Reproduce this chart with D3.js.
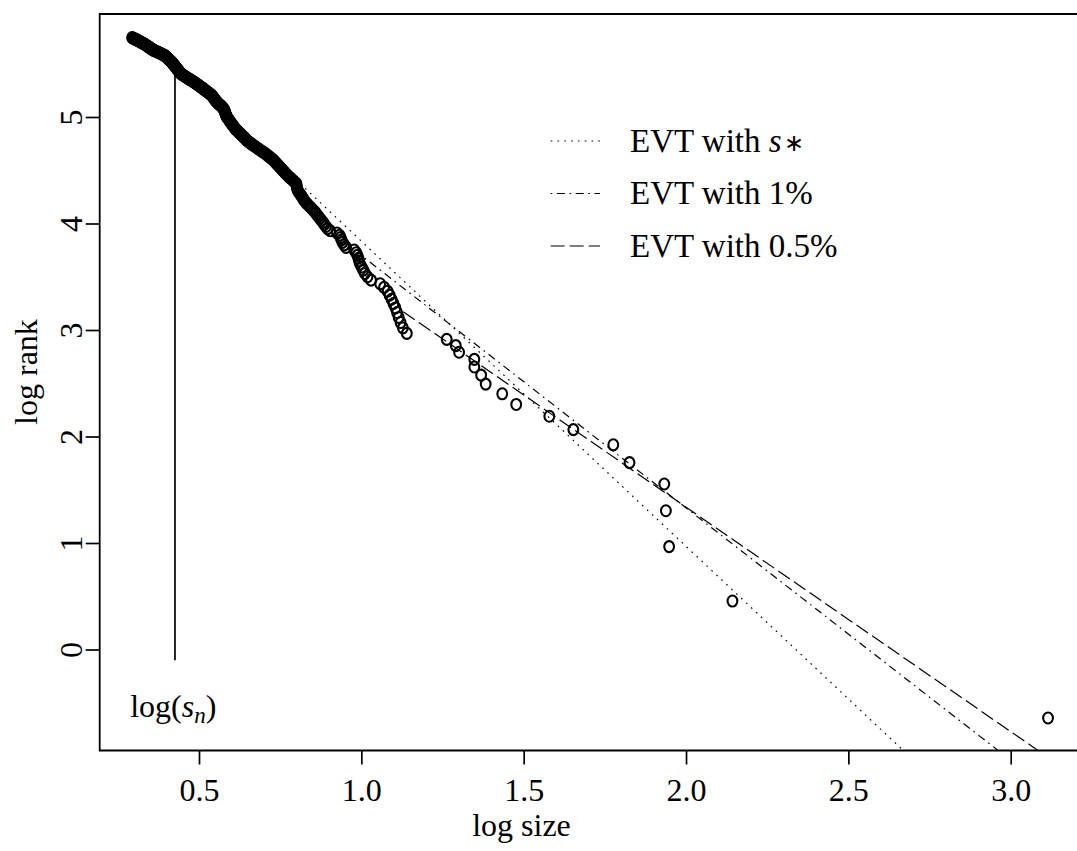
<!DOCTYPE html>
<html>
<head>
<meta charset="utf-8">
<script src="https://cdn.jsdelivr.net/npm/d3@7"></script>
<style>
  html, body { margin: 0; padding: 0; background: #fff; }
  svg { display: block; }
  text { font-family: "Liberation Serif", "Times New Roman", serif; fill: #000; }
</style>
</head>
<body>
<svg id="chart" width="1077" height="851"></svg>
<script>
// ---- data ----
const logSize = [
  3.115, 2.143, 1.948, 1.938, 1.933, 1.826, 1.776, 1.653, 1.579, 1.477,
  1.434, 1.383, 1.369, 1.348, 1.348, 1.301, 1.291, 1.263, 1.140, 1.128,
  1.121, 1.115, 1.110, 1.105, 1.099, 1.093, 1.087, 1.081, 1.070, 1.058,
  1.030, 1.019, 1.011, 1.006, 1.001, 0.996, 0.993, 0.991, 0.988, 0.984,
  0.978, 0.953, 0.947, 0.942, 0.939, 0.936, 0.933, 0.925, 0.904, 0.896,
  0.891, 0.886, 0.882, 0.877, 0.872, 0.868, 0.863, 0.859, 0.854, 0.848,
  0.843, 0.838, 0.833, 0.828, 0.824, 0.821, 0.818, 0.815, 0.811, 0.808,
  0.805, 0.803, 0.802, 0.801, 0.800, 0.800, 0.796, 0.791, 0.786, 0.782,
  0.777, 0.773, 0.769, 0.765, 0.762, 0.758, 0.755, 0.751, 0.748, 0.745,
  0.741, 0.738, 0.735, 0.731, 0.728, 0.724, 0.719, 0.715, 0.711, 0.707,
  0.703, 0.698, 0.693, 0.688, 0.684, 0.679, 0.675, 0.671, 0.666, 0.662,
  0.658, 0.654, 0.650, 0.647, 0.644, 0.642, 0.639, 0.636, 0.633, 0.631,
  0.628, 0.625, 0.622, 0.620, 0.617, 0.614, 0.612, 0.610, 0.608, 0.606,
  0.604, 0.602, 0.600, 0.599, 0.597, 0.595, 0.594, 0.592, 0.590, 0.589,
  0.587, 0.585, 0.584, 0.584, 0.583, 0.582, 0.581, 0.580, 0.580, 0.579,
  0.578, 0.577, 0.576, 0.574, 0.572, 0.570, 0.568, 0.566, 0.563, 0.561,
  0.559, 0.557, 0.555, 0.553, 0.551, 0.550, 0.549, 0.547, 0.546, 0.544,
  0.543, 0.542, 0.540, 0.538, 0.536, 0.533, 0.531, 0.529, 0.526, 0.524,
  0.521, 0.519, 0.517, 0.514, 0.512, 0.510, 0.507, 0.505, 0.502, 0.500,
  0.498, 0.495, 0.493, 0.491, 0.488, 0.485, 0.483, 0.480, 0.478, 0.475,
  0.472, 0.470, 0.467, 0.465, 0.462, 0.460, 0.457, 0.455, 0.452, 0.450,
  0.448, 0.445, 0.444, 0.442, 0.441, 0.440, 0.439, 0.438, 0.436, 0.435,
  0.434, 0.433, 0.432, 0.431, 0.429, 0.428, 0.427, 0.426, 0.425, 0.424,
  0.423, 0.421, 0.420, 0.419, 0.418, 0.417, 0.416, 0.414, 0.413, 0.411,
  0.410, 0.409, 0.407, 0.406, 0.404, 0.403, 0.402, 0.400, 0.399, 0.398,
  0.396, 0.395, 0.392, 0.389, 0.387, 0.384, 0.381, 0.378, 0.376, 0.373,
  0.370, 0.368, 0.365, 0.362, 0.360, 0.358, 0.356, 0.354, 0.352, 0.350,
  0.349, 0.347, 0.345, 0.344, 0.342, 0.340, 0.338, 0.336, 0.335, 0.333,
  0.330, 0.329, 0.326, 0.324, 0.322, 0.320, 0.318, 0.316, 0.314, 0.312,
  0.310, 0.308, 0.306, 0.303, 0.301, 0.298, 0.296, 0.294
];
const logRank = [
  -0.643, 0.455, 0.966, 1.303, 1.554, 1.755, 1.922, 2.065, 2.190, 2.301,
  2.401, 2.492, 2.576, 2.653, 2.724, 2.791, 2.853, 2.912, 2.968, 3.020,
  3.070, 3.118, 3.164, 3.207, 3.249, 3.289, 3.327, 3.364, 3.400, 3.434,
  3.468, 3.500, 3.531, 3.562, 3.591, 3.620, 3.647, 3.674, 3.701, 3.726,
  3.751, 3.776, 3.800, 3.823, 3.846, 3.868, 3.890, 3.911, 3.932, 3.952,
  3.972, 3.992, 4.011, 4.030, 4.048, 4.066, 4.084, 4.102, 4.119, 4.136,
  4.153, 4.169, 4.185, 4.201, 4.217, 4.232, 4.247, 4.262, 4.277, 4.291,
  4.306, 4.320, 4.334, 4.347, 4.361, 4.374, 4.387, 4.400, 4.413, 4.426,
  4.438, 4.451, 4.463, 4.475, 4.487, 4.499, 4.510, 4.522, 4.533, 4.544,
  4.555, 4.566, 4.577, 4.588, 4.599, 4.609, 4.620, 4.630, 4.640, 4.650,
  4.660, 4.670, 4.680, 4.690, 4.699, 4.709, 4.718, 4.727, 4.737, 4.746,
  4.755, 4.764, 4.773, 4.782, 4.791, 4.799, 4.808, 4.816, 4.825, 4.833,
  4.842, 4.850, 4.858, 4.866, 4.874, 4.882, 4.890, 4.898, 4.906, 4.914,
  4.921, 4.929, 4.937, 4.944, 4.952, 4.959, 4.966, 4.974, 4.981, 4.988,
  4.995, 5.002, 5.009, 5.016, 5.023, 5.030, 5.037, 5.044, 5.051, 5.057,
  5.064, 5.071, 5.077, 5.084, 5.090, 5.097, 5.103, 5.109, 5.116, 5.122,
  5.128, 5.135, 5.141, 5.147, 5.153, 5.159, 5.165, 5.171, 5.177, 5.183,
  5.189, 5.195, 5.200, 5.206, 5.212, 5.218, 5.223, 5.229, 5.235, 5.240,
  5.246, 5.251, 5.257, 5.262, 5.268, 5.273, 5.278, 5.284, 5.289, 5.294,
  5.300, 5.305, 5.310, 5.315, 5.320, 5.326, 5.331, 5.336, 5.341, 5.346,
  5.351, 5.356, 5.361, 5.366, 5.371, 5.375, 5.380, 5.385, 5.390, 5.395,
  5.399, 5.404, 5.409, 5.414, 5.418, 5.423, 5.428, 5.432, 5.437, 5.441,
  5.446, 5.450, 5.455, 5.459, 5.464, 5.468, 5.473, 5.477, 5.482, 5.486,
  5.490, 5.495, 5.499, 5.503, 5.507, 5.512, 5.516, 5.520, 5.524, 5.529,
  5.533, 5.537, 5.541, 5.545, 5.549, 5.553, 5.557, 5.561, 5.565, 5.569,
  5.573, 5.577, 5.581, 5.585, 5.589, 5.593, 5.597, 5.601, 5.605, 5.609,
  5.613, 5.616, 5.620, 5.624, 5.628, 5.632, 5.635, 5.639, 5.643, 5.647,
  5.650, 5.654, 5.658, 5.661, 5.665, 5.669, 5.672, 5.676, 5.679, 5.683,
  5.687, 5.690, 5.694, 5.697, 5.701, 5.704, 5.708, 5.711, 5.715, 5.718,
  5.722, 5.725, 5.728, 5.732, 5.735, 5.739, 5.742, 5.745
];

// fitted EVT lines: endpoints [logSize, logRank]
const fitNames = ["EVT with s*", "EVT with 1%", "EVT with 0.5%"];
const fitStart = [[0.827, 4.330], [1.011, 3.674], [1.129, 3.172]];
const fitEnd   = [[2.670, -0.951], [2.965, -0.957], [3.085, -0.950]];

// threshold log(s_n)
const threshX = 0.426;
const threshY = [-0.1, 5.42];

const xTicks = [0.5, 1.0, 1.5, 2.0, 2.5, 3.0];
const yTicks = [0, 1, 2, 3, 4, 5];

// ---- layout ----
const svg = d3.select("#chart");
const W = 1077, H = 851;
const plot = { left: 99.7, top: 14, bottom: 750.5, right: 1095 };
const FS = 32;

svg.append("rect").attr("width", W).attr("height", H).attr("fill", "#fff");

const x = d3.scaleLinear().domain([0.5, 3.0]).range([199, 1010.7]);
const y = d3.scaleLinear().domain([0, 5]).range([649.5, 117]);

svg.append("defs").append("clipPath").attr("id", "clip")
  .append("rect")
  .attr("x", plot.left).attr("y", plot.top)
  .attr("width", plot.right - plot.left).attr("height", plot.bottom - plot.top);

const g = svg.append("g").attr("clip-path", "url(#clip)");

// threshold line
g.append("line")
  .attr("x1", x(threshX)).attr("x2", x(threshX))
  .attr("y1", y(threshY[0])).attr("y2", y(threshY[1]))
  .attr("stroke", "#000").attr("stroke-width", 1.7);

// fitted lines
const dashes = ["1.6,5.2", "1.6,4.6,8,4.6", "14,5"];
const lineGen = d3.line().x(d => x(d[0])).y(d => y(d[1]));
fitNames.forEach((n, i) => {
  g.append("path")
    .attr("d", lineGen([fitStart[i], fitEnd[i]]))
    .attr("fill", "none").attr("stroke", "#000")
    .attr("stroke-width", 1.2)
    .attr("stroke-dasharray", dashes[i]);
});

// points
const pts = logSize.map((s, i) => ({ s: s, r: logRank[i] }));
g.selectAll("ellipse.pt").data(pts).enter().append("ellipse")
  .attr("class", "pt")
  .attr("cx", d => x(d.s)).attr("cy", d => y(d.r))
  .attr("rx", 4.9).attr("ry", 5.5)
  .attr("fill", "none").attr("stroke", "#000").attr("stroke-width", 2.1);

// frame (right side lies beyond the picture)
svg.append("path")
  .attr("d", `M${plot.right},${plot.top}H${plot.left}V${plot.bottom}H${plot.right}`)
  .attr("fill", "none").attr("stroke", "#000").attr("stroke-width", 1.8);

// x axis
const xAxis = svg.append("g").attr("transform", `translate(0,${plot.bottom})`)
  .call(d3.axisBottom(x).tickValues(xTicks).tickSize(14).tickPadding(14)
        .tickFormat(d3.format(".1f")));
xAxis.select(".domain").remove();
xAxis.selectAll(".tick line").attr("stroke", "#000").attr("stroke-width", 1.7);
xAxis.selectAll(".tick text").attr("font-size", FS)
  .attr("font-family", "'Liberation Serif', serif").attr("fill", "#000");

// y axis (labels rotated)
const yAxis = svg.append("g").attr("transform", `translate(${plot.left},0)`)
  .call(d3.axisLeft(y).tickValues(yTicks).tickSize(14).tickFormat(d3.format("d")));
yAxis.select(".domain").remove();
yAxis.selectAll(".tick line").attr("stroke", "#000").attr("stroke-width", 1.7);
yAxis.selectAll(".tick text")
  .attr("x", 0).attr("y", -18).attr("dy", 0)
  .attr("transform", "rotate(-90)")
  .attr("text-anchor", "middle")
  .attr("font-size", FS)
  .attr("font-family", "'Liberation Serif', serif").attr("fill", "#000");

// axis titles
svg.append("text").attr("x", 521.5).attr("y", 836)
  .attr("text-anchor", "middle").attr("font-size", FS).text("log size");
svg.append("text")
  .attr("transform", "translate(37,372) rotate(-90)")
  .attr("text-anchor", "middle").attr("font-size", FS).text("log rank");

// log(s_n) label
const lt = svg.append("text").attr("x", 173.3).attr("y", 717)
  .attr("text-anchor", "middle").attr("font-size", FS);
lt.append("tspan").text("log(");
lt.append("tspan").attr("font-style", "italic").text("s");
lt.append("tspan").attr("font-style", "italic").attr("font-size", 23).attr("dy", 6).text("n");
lt.append("tspan").attr("dy", -6).text(")");

// legend
const legBase = [151.5, 204, 256.5];
fitNames.forEach((n, i) => {
  svg.append("line")
    .attr("x1", 550.7).attr("x2", 600)
    .attr("y1", legBase[i] - 10.5).attr("y2", legBase[i] - 10.5)
    .attr("stroke", "#000").attr("stroke-width", 1.2)
    .attr("stroke-dasharray", dashes[i]);
  const t = svg.append("text").attr("x", 630).attr("y", legBase[i]).attr("font-size", 33);
  if (n.endsWith("s*")) {
    t.append("tspan").text("EVT with ");
    t.append("tspan").attr("font-style", "italic").text("s");
    t.append("tspan").attr("font-size", 24).attr("dx", 2).attr("dy", -1).text("\u2217");
  } else {
    t.text(n);
  }
});
</script>
</body>
</html>
